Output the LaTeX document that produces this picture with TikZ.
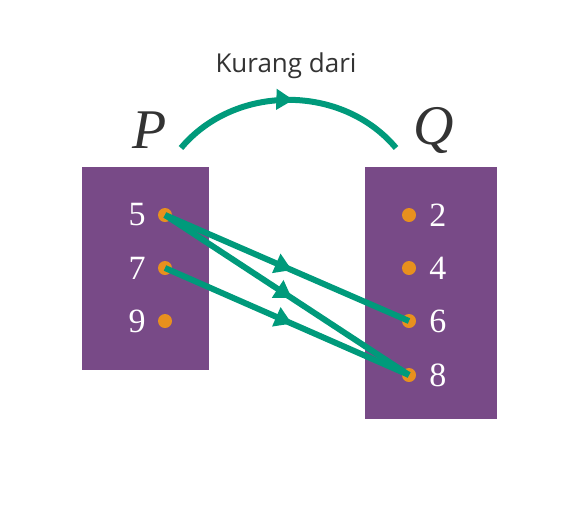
\documentclass[tikz,border=0pt]{standalone}
\usepackage{fontspec}
\newfontfamily\labelfont{Open Sans}
\newfontfamily\numfont{Liberation Serif}
\usetikzlibrary{positioning,arrows.meta,decorations.markings}
\definecolor{setpurple}{HTML}{784A87}
\definecolor{dotorange}{HTML}{E8901E}
\definecolor{arrowgreen}{HTML}{009A7B}
\definecolor{textgray}{HTML}{333333}
\tikzset{
  setbox/.style={fill=setpurple},
  elemdot/.style={circle,fill=dotorange,inner sep=0pt,minimum size=14pt},
  elemnum/.style={text=white,inner sep=0pt,font=\numfont\fontsize{34}{34}\selectfont},
  setname/.style={text=textgray,font=\numfont\fontsize{56}{56}\selectfont\itshape},
  relarrow/.style={arrowgreen,line width=6pt,postaction={decorate},
    decoration={markings,mark=at position 0.52 with {\arrow{Triangle[length=17pt,width=20pt]}}}}
}
\begin{document}
\begin{tikzpicture}[x=1pt,y=-1pt]
  \useasboundingbox (0,0) rectangle (580,509);
  % the two sets
  \fill[setbox] (82,167) rectangle (209,370);
  \fill[setbox] (365,167) rectangle (497,419);
  \node[setname] (P) at (150,130) {P};
  \node[setname] (Q) at (434,130) {Q};
  % elements of P
  \node[elemdot] (p5) at (165,215) {};
  \node[elemdot] (p7) at (165,268) {};
  \node[elemdot] (p9) at (165,321) {};
  \node[elemnum,left=12pt of p5] {5};
  \node[elemnum,left=12pt of p7] {7};
  \node[elemnum,left=12pt of p9] {9};
  % elements of Q
  \node[elemdot] (q2) at (409,215) {};
  \node[elemdot] (q4) at (409,268) {};
  \node[elemdot] (q6) at (409,321) {};
  \node[elemdot] (q8) at (409,375) {};
  \node[elemnum,right=13pt of q2] {2};
  \node[elemnum,right=13pt of q4] {4};
  \node[elemnum,right=13pt of q6] {6};
  \node[elemnum,right=13pt of q8] {8};
  % relation
  \coordinate (arcL) at (181,148);
  \coordinate (arcR) at (396,148);
  \draw[relarrow] (arcL) to[bend left=50] (arcR);
  \node[text=textgray,font=\labelfont\fontsize{26}{26}\selectfont] (rel) at (286,66) {Kurang dari};
  \draw[relarrow] (p5.center) -- (q6.center);
  \draw[relarrow] (p5.center) -- (q8.center);
  \draw[relarrow] (p7.center) -- (q8.center);
\end{tikzpicture}
\end{document}
